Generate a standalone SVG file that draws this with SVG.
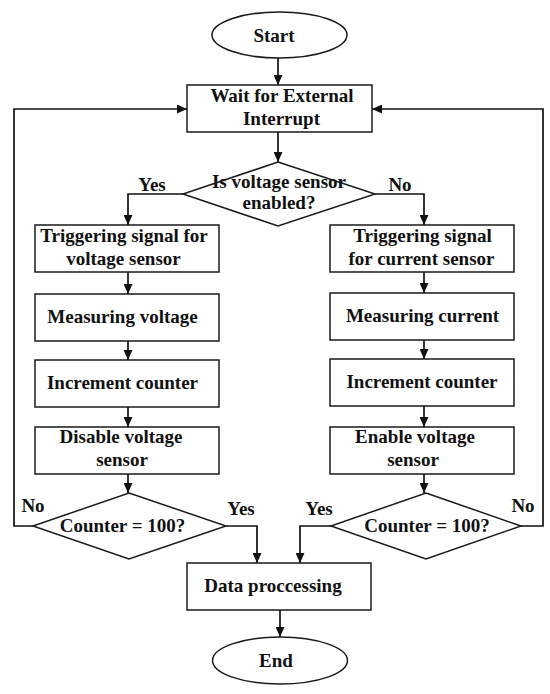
<svg xmlns="http://www.w3.org/2000/svg" width="550" height="694" viewBox="0 0 550 694">
<defs>
<marker id="ah" markerUnits="userSpaceOnUse" markerWidth="10" markerHeight="9" refX="10" refY="4.5" orient="auto">
<path d="M0,0 L10,4.5 L0,9 z" fill="#111"/>
</marker>
<style>
.s{fill:#fff;stroke:#1a1a1a;stroke-width:1.5}
.c{fill:none;stroke:#111;stroke-width:1.7;marker-end:url(#ah)}
text{font-family:"Liberation Serif","Times New Roman",serif;font-weight:bold;font-size:19px;fill:#111;text-anchor:middle}
</style>
</defs>
<rect width="550" height="694" fill="#fff"/>
<g id="connectors">
<path class="c" d="M278 58 V85"/>
<path class="c" d="M278 132 V162"/>
<path class="c" d="M183 194 H128 V225"/>
<path class="c" d="M375 194 H424 V225"/>
<path class="c" d="M128 272 V294"/>
<path class="c" d="M128 341 V360"/>
<path class="c" d="M128 407 V427"/>
<path class="c" d="M128 474 V493"/>
<path class="c" d="M424 272 V293"/>
<path class="c" d="M424 340 V359"/>
<path class="c" d="M424 406 V427"/>
<path class="c" d="M424 474 V493"/>
<path class="c" d="M33 526 H14 V109 H187"/>
<path class="c" d="M226 526 H257 V563"/>
<path class="c" d="M331 526 H300 V563"/>
<path class="c" d="M521 526 H543 V109 H372"/>
<path class="c" d="M280 610 V637"/>
<text x="152" y="191">Yes</text>
<text x="400" y="191">No</text>
<text x="33" y="512">No</text>
<text x="241" y="515">Yes</text>
<text x="319" y="515">Yes</text>
<text x="523" y="512">No</text>
</g>
<g id="start">
<ellipse class="s" cx="279.5" cy="35" rx="67.5" ry="23"/>
<text x="274" y="42">Start</text>
</g>
<g id="wait">
<rect class="s" x="187" y="85" width="185" height="47"/>
<text x="282" y="102">Wait for External</text>
<text x="281.5" y="125">Interrupt</text>
</g>
<g id="decision-voltage">
<polygon class="s" points="278,162 375,194 278,226 183,194"/>
<text x="279" y="188">Is voltage sensor</text>
<text x="279" y="209">enabled?</text>
</g>
<g id="trig-voltage">
<rect class="s" x="35" y="225" width="184" height="47"/>
<text x="124" y="242">Triggering signal for</text>
<text x="123.5" y="265">voltage sensor</text>
</g>
<g id="meas-voltage">
<rect class="s" x="35" y="294" width="184" height="47"/>
<text x="122.5" y="323">Measuring voltage</text>
</g>
<g id="inc-left">
<rect class="s" x="35" y="360" width="184" height="47"/>
<text x="122.5" y="389">Increment counter</text>
</g>
<g id="disable-voltage">
<rect class="s" x="35" y="427" width="184" height="47"/>
<text x="121" y="443">Disable voltage</text>
<text x="122" y="466">sensor</text>
</g>
<g id="counter-left">
<polygon class="s" points="129,493 226,526 129,559 33,526"/>
<text x="122.5" y="532">Counter = 100?</text>
</g>
<g id="trig-current">
<rect class="s" x="330" y="225" width="184" height="47"/>
<text x="422.5" y="242">Triggering signal</text>
<text x="421.5" y="265">for current sensor</text>
</g>
<g id="meas-current">
<rect class="s" x="330" y="293" width="184" height="47"/>
<text x="422.5" y="322">Measuring current</text>
</g>
<g id="inc-right">
<rect class="s" x="330" y="359" width="184" height="47"/>
<text x="422" y="388">Increment counter</text>
</g>
<g id="enable-voltage">
<rect class="s" x="330" y="427" width="184" height="47"/>
<text x="415" y="443">Enable voltage</text>
<text x="413" y="466">sensor</text>
</g>
<g id="counter-right">
<polygon class="s" points="426,493 521,526 426,559 331,526"/>
<text x="427" y="532">Counter = 100?</text>
</g>
<g id="data">
<rect class="s" x="187" y="563" width="184" height="47"/>
<text x="273" y="592">Data proccessing</text>
</g>
<g id="end">
<ellipse class="s" cx="280" cy="660.5" rx="67.5" ry="23.5"/>
<text x="276" y="667">End</text>
</g>
</svg>
